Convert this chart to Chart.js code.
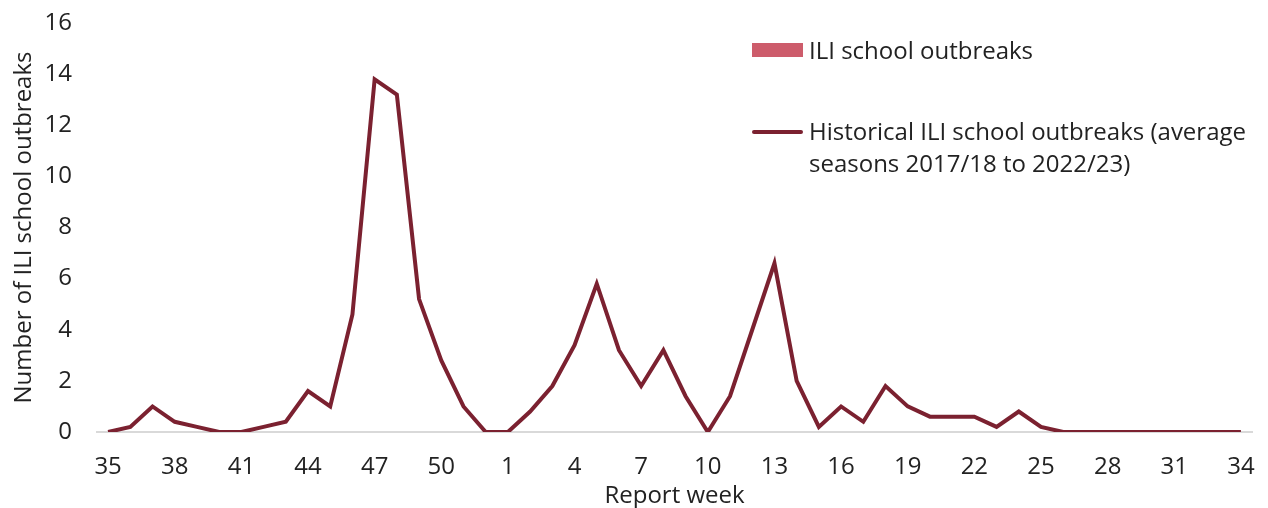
<!DOCTYPE html>
<html>
<head>
<meta charset="utf-8">
<script src="https://cdn.jsdelivr.net/npm/chart.js@4/dist/chart.umd.min.js"></script>
<style>
    body { margin: 0; background: #fff; font-family: 'Open Sans', sans-serif; }
    .wrap { position: relative; width: 1268px; height: 508px; }
    #legend { position: absolute; left: 752px; top: 34px; width: 516px; color: #222; font-size: 24px; }
    .item { display: flex; align-items: flex-start; margin-bottom: 49px; line-height: 32px; }
    .swatch { flex: 0 0 51px; margin-right: 6px; }
    .swatch.bar { height: 14px; margin-top: 9px; }
    .swatch.line { height: 4px; margin-top: 15px; border-radius: 2px; }
</style>
</head>
<body>
<div class="wrap">
    <canvas id="chart" width="1268" height="508"></canvas>
    <div id="legend"></div>
</div>
<script>
// report weeks 35..52 then 1..34
const weeks = [35, 36, 37, 38, 39, 40, 41, 42, 43, 44, 45, 46, 47, 48, 49, 50, 51, 52,
    1, 2, 3, 4, 5, 6, 7, 8, 9, 10, 11, 12, 13, 14, 15, 16, 17, 18, 19, 20, 21, 22, 23, 24,
    25, 26, 27, 28, 29, 30, 31, 32, 33, 34];
const shownWeeks = [35, 38, 41, 44, 47, 50, 1, 4, 7, 10, 13, 16, 19, 22, 25, 28, 31, 34];

// current season - no outbreaks reported yet
const outbreaks = [];
const historical = [0, 0.2, 1.0, 0.4, 0.2, 0, 0, 0.2, 0.4, 1.6, 1.0, 4.6, 13.8, 13.2, 5.2, 2.8, 1.0, 0,
    0, 0.8, 1.8, 3.4, 5.8, 3.2, 1.8, 3.2, 1.4, 0, 1.4, 4.0, 6.6, 2.0, 0.2, 1.0, 0.4, 1.8, 1.0, 0.6, 0.6, 0.6, 0.2, 0.8,
    0.2, 0, 0, 0, 0, 0, 0, 0, 0, 0];

const barLabel = 'ILI school outbreaks';
const lineLabel = ['Historical ILI school outbreaks (average', 'seasons 2017/18 to 2022/23)'];

const barColor = '#cd5c6b';
const lineColor = '#7b2130';
const textColor = '#222';

Chart.defaults.font.family = "'Open Sans', sans-serif";
Chart.defaults.font.size = 24;
Chart.defaults.color = textColor;

const ctx = document.getElementById('chart').getContext('2d');
new Chart(ctx, {
    type: 'bar',
    data: {
        labels: weeks,
        datasets: [{
            type: 'bar',
            label: barLabel,
            data: outbreaks,
            backgroundColor: barColor
        }, {
            type: 'line',
            label: lineLabel.join(' '),
            data: historical,
            borderColor: lineColor,
            borderWidth: 4,
            pointRadius: 0,
            tension: 0
        }]
    },
    options: {
        responsive: false,
        animation: false,
        layout: { padding: { top: 23, right: 16 } },
        plugins: {
            legend: { display: false },
            tooltip: { enabled: false }
        },
        scales: {
            x: {
                offset: true,
                grid: { display: false, drawTicks: false },
                border: { color: '#d9d9d9', width: 2 },
                ticks: {
                    autoSkip: false,
                    maxRotation: 0,
                    padding: 21,
                    callback: function (v, i) {
                        const w = weeks[i];
                        return shownWeeks.includes(w) ? String(w) : '';
                    }
                },
                title: { display: true, text: 'Report week', padding: { top: 0, bottom: -3 } },
                afterFit: s => {
                    s.height = 76;
                    s.paddingLeft = 0;
                    s.paddingRight = 0;
                }
            },
            y: {
                min: 0,
                max: 16,
                grid: { display: false, drawTicks: false },
                border: { display: false },
                ticks: { stepSize: 2, padding: 25 },
                title: { display: true, text: 'Number of ILI school outbreaks', padding: { top: 10, bottom: 0 } },
                afterFit: s => {
                    s.width = 97;
                    s.paddingTop = 0;
                    s.paddingBottom = 0;
                }
            }
        }
    }
});

// html legend
const legend = document.getElementById('legend');
legend.innerHTML = `
    <div class="item"><span class="swatch bar" style="background:${barColor}"></span><span>${barLabel}</span></div>
    <div class="item"><span class="swatch line" style="background:${lineColor}"></span><span>${lineLabel[0]}<br>${lineLabel[1]}</span></div>
`;
</script>
</body>
</html>
